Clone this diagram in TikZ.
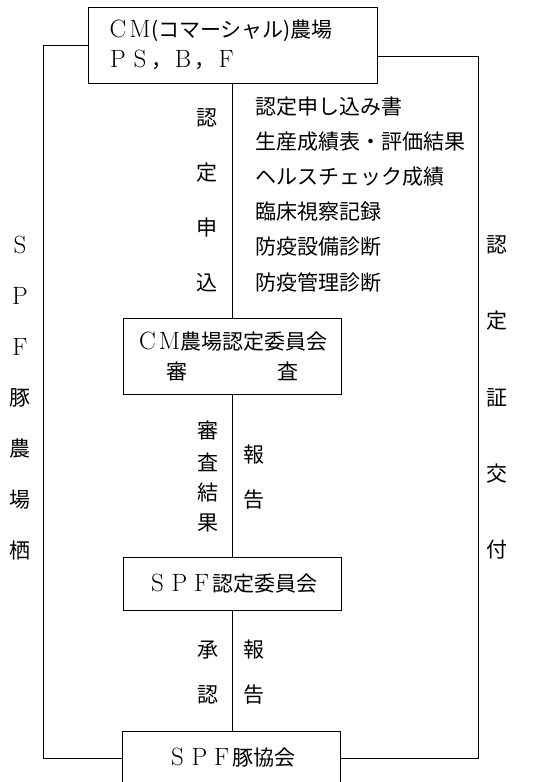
\documentclass[tikz,border=0pt]{standalone}
\usepackage{fontspec}
\newfontfamily\jp{Noto Sans CJK JP}
\newcommand{\fwl}[1]{\makebox[1.05em][c]{\fontsize{25pt}{25pt}\selectfont\rmfamily #1}}
\tikzset{
  box/.style={draw, line width=0.9pt, inner sep=0pt, font=\jp\fontsize{21pt}{30pt}\selectfont},
  lbl/.style={inner sep=0pt, font=\jp\fontsize{21pt}{24pt}\selectfont},
  conn/.style={line width=0.9pt}
}
\begin{document}
\begin{tikzpicture}[x=1pt,y=-1pt]
\useasboundingbox (0,0) rectangle (545,782);
\clip (0,0) rectangle (545,782);
% boxes
\node[box, minimum width=289pt, minimum height=76pt, text width=251pt, inner xsep=19pt, align=left] (top) at (232.5,45)
  {\fwl{C}\fwl{M}(コマーシャル)農場\\\fwl{P}\fwl{S}，\fwl{B}，\fwl{F}};
\node[box, minimum width=218pt, minimum height=76pt, align=center] (cmc) at (232,356)
  {\fwl{C}\fwl{M}農場認定委員会\\審\hspace{90pt}査};
\node[box, minimum width=218pt, minimum height=53pt] (spfc) at (232,583.5)
  {\fwl{S}\fwl{P}\fwl{F}認定委員会};
\node[box, minimum width=218pt, minimum height=54pt] (assoc) at (231,758)
  {\fwl{S}\fwl{P}\fwl{F}豚協会};
% outer connectors
\coordinate (LC) at (43,758);
\coordinate (RC) at (478,758);
\draw[conn] (top.west) -| (LC) -- (assoc.west);
\draw[conn] ([yshift=-11pt]top.east) -| (RC) -- (assoc.east);
% central connectors
\draw[conn] (top.south -| cmc.north) -- (cmc.north);
\draw[conn] (cmc.south) -- (spfc.north);
\draw[conn] (spfc.south) -- (assoc.north -| spfc.south);
% application labels
\foreach \c/\y [count=\i] in {認/118,定/173,申/228,込/283}
  \node[lbl] (app\i) at (207,\y) {\c};
\foreach \t/\y [count=\i] in {認定申し込み書/107,生産成績表・評価結果/142,ヘルスチェック成績/177,臨床視察記録/212,防疫設備診断/247,防疫管理診断/283}
  \node[lbl, anchor=west] (doc\i) at (255,\y) {\t};
% left side
\node[lbl] (l1) at (20,245) {\fwl{S}};
\node[lbl] (l2) at (20,296) {\fwl{P}};
\node[lbl] (l3) at (20,347) {\fwl{F}};
\foreach \c/\y [count=\i from 4] in {豚/398,農/449,場/500,栖/551}
  \node[lbl] (l\i) at (20,\y) {\c};
% right side
\foreach \c/\y [count=\i] in {認/245,定/321,証/398,交/474,付/550}
  \node[lbl] (r\i) at (497,\y) {\c};
% review labels
\foreach \c/\y [count=\i] in {審/430,査/462,結/493,果/523}
  \node[lbl] (rv\i) at (208,\y) {\c};
\node[lbl] (rp1) at (254,455) {報};
\node[lbl] (rp2) at (254,500) {告};
% approval labels
\node[lbl] (ap1) at (208,650) {承};
\node[lbl] (ap2) at (208,695) {認};
\node[lbl] (rq1) at (254,650) {報};
\node[lbl] (rq2) at (254,695) {告};
\end{tikzpicture}
\end{document}
